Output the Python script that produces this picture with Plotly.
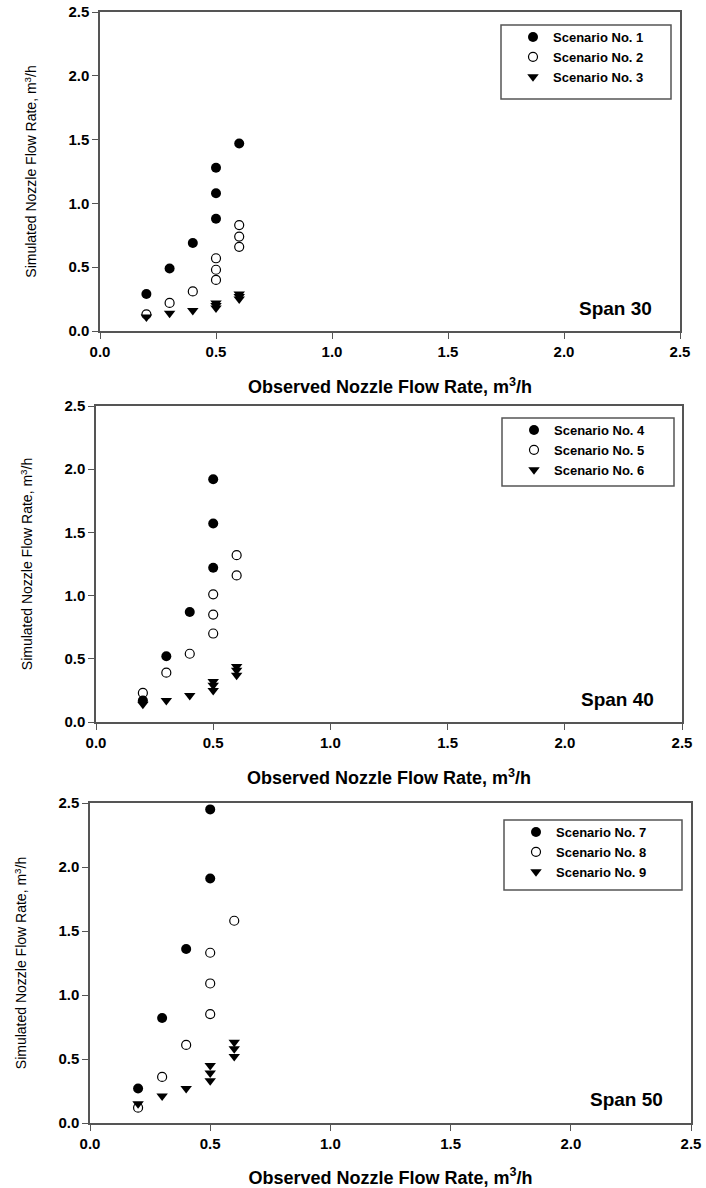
import plotly.graph_objects as go

# ---------------- data ----------------
# Span 30
obs_s1 = [0.2, 0.3, 0.4, 0.5, 0.5, 0.5, 0.6]
sim_s1 = [0.29, 0.49, 0.69, 0.88, 1.08, 1.28, 1.47]
obs_s2 = [0.2, 0.3, 0.4, 0.5, 0.5, 0.5, 0.6, 0.6, 0.6]
sim_s2 = [0.13, 0.22, 0.31, 0.40, 0.48, 0.57, 0.66, 0.74, 0.83]
obs_s3 = [0.2, 0.3, 0.4, 0.5, 0.5, 0.5, 0.6, 0.6, 0.6]
sim_s3 = [0.11, 0.14, 0.16, 0.18, 0.20, 0.22, 0.25, 0.27, 0.29]

# Span 40
obs_s4 = [0.2, 0.3, 0.4, 0.5, 0.5, 0.5]
sim_s4 = [0.17, 0.52, 0.87, 1.22, 1.57, 1.92]
obs_s5 = [0.2, 0.3, 0.4, 0.5, 0.5, 0.5, 0.6, 0.6]
sim_s5 = [0.23, 0.39, 0.54, 0.70, 0.85, 1.01, 1.16, 1.32]
obs_s6 = [0.2, 0.3, 0.4, 0.5, 0.5, 0.5, 0.6, 0.6, 0.6]
sim_s6 = [0.14, 0.17, 0.21, 0.25, 0.29, 0.32, 0.37, 0.41, 0.44]

# Span 50
obs_s7 = [0.2, 0.3, 0.4, 0.5, 0.5]
sim_s7 = [0.27, 0.82, 1.36, 1.91, 2.45]
obs_s8 = [0.2, 0.3, 0.4, 0.5, 0.5, 0.5, 0.6]
sim_s8 = [0.12, 0.36, 0.61, 0.85, 1.09, 1.33, 1.58]
obs_s9 = [0.2, 0.3, 0.4, 0.5, 0.5, 0.5, 0.6, 0.6, 0.6]
sim_s9 = [0.15, 0.21, 0.27, 0.33, 0.39, 0.45, 0.52, 0.58, 0.63]

scenario_names = ["Scenario No. %d" % i for i in range(1, 10)]
span_labels = ["Span 30", "Span 40", "Span 50"]
tick_vals = [0.0, 0.5, 1.0, 1.5, 2.0, 2.5]
tick_text = ["0.0", "0.5", "1.0", "1.5", "2.0", "2.5"]
x_title = "<b>Observed Nozzle Flow Rate, m<sup>3</sup>/h</b>"
y_title = "Simulated Nozzle Flow Rate, m<sup>3</sup>/h"

panels = [
    [(obs_s1, sim_s1), (obs_s2, sim_s2), (obs_s3, sim_s3)],
    [(obs_s4, sim_s4), (obs_s5, sim_s5), (obs_s6, sim_s6)],
    [(obs_s7, sim_s7), (obs_s8, sim_s8), (obs_s9, sim_s9)],
]

# ---------------- layout geometry (pixels) ----------------
W, H = 706, 1188
plot_px = [  # left, right, top, bottom
    (100, 680, 12, 331),
    (96, 682, 406, 722),
    (90, 691, 803, 1123),
]
legend_box = [  # left, right, top, bottom
    (501, 671, 25, 99),
    (502, 674, 418, 486),
    (504, 682, 820, 890),
]

FONT = "Liberation Sans, Arial, sans-serif"
AXCOL = "#555555"

marker_styles = [
    dict(symbol="circle", size=10, color="black", line=dict(width=0)),
    dict(symbol="circle-open", size=9, color="black", line=dict(width=1.2)),
    dict(symbol="triangle-down", size=10, color="black", line=dict(width=0)),
]

fig = go.Figure()
layout = dict(
    width=W, height=H,
    margin=dict(l=0, r=0, t=0, b=0),
    paper_bgcolor="white", plot_bgcolor="white",
    font=dict(family=FONT, color="black"),
    shapes=[], annotations=[],
)

for p, series in enumerate(panels):
    l, r, t, b = plot_px[p]
    xa = "xaxis" if p == 0 else "xaxis%d" % (p + 1)
    ya = "yaxis" if p == 0 else "yaxis%d" % (p + 1)
    xref = "x" if p == 0 else "x%d" % (p + 1)
    yref = "y" if p == 0 else "y%d" % (p + 1)
    lg = "legend" if p == 0 else "legend%d" % (p + 1)

    for k, (xs, ys) in enumerate(series):
        fig.add_trace(go.Scatter(
            x=xs, y=ys, mode="markers",
            marker=marker_styles[k],
            name=scenario_names[p * 3 + k],
            xaxis=xref, yaxis=yref, legend=lg,
            cliponaxis=False,
        ))

    axis_common = dict(
        range=[0, 2.5], tickvals=tick_vals, ticktext=tick_text,
        ticks="outside", ticklen=6, tickwidth=1.2, tickcolor=AXCOL,
        showline=True, linecolor=AXCOL, linewidth=1.5, mirror=True,
        showgrid=False, zeroline=False, automargin=False,
        tickfont=dict(family=FONT, size=15, color="black", weight="bold"),
    )
    layout[xa] = dict(axis_common, domain=[l / W, r / W], anchor=yref,
                      title=dict(text=x_title, standoff=22,
                                 font=dict(family=FONT, size=18, color="black")))
    layout[ya] = dict(axis_common, domain=[1 - b / H, 1 - t / H], anchor=xref,
                      title=dict(text=y_title, standoff=28,
                                 font=dict(family=FONT, size=14, color="black")))

    # legend box + legend
    bl, br, bt, bb = legend_box[p]
    layout["shapes"].append(dict(
        type="rect", xref="paper", yref="paper",
        x0=bl / W, x1=br / W, y0=1 - bb / H, y1=1 - bt / H,
        line=dict(color=AXCOL, width=1.5), fillcolor="rgba(0,0,0,0)",
    ))
    layout[lg] = dict(
        x=(bl + 12) / W, y=1 - (bt - 3) / H, xanchor="left", yanchor="top",
        bgcolor="rgba(0,0,0,0)", borderwidth=0,
        font=dict(family=FONT, size=13, color="black", weight="bold"),
    )

    # span label
    layout["annotations"].append(dict(
        text="<b>%s</b>" % span_labels[p], xref=xref, yref=yref,
        x=2.39, y=0.18, xanchor="right", yanchor="middle", showarrow=False,
        font=dict(family=FONT, size=19, color="black"),
    ))

fig.update_layout(**layout)
fig.write_html("out.html", config={"displayModeBar": False},
               post_script="document.body.style.margin='0px';")
